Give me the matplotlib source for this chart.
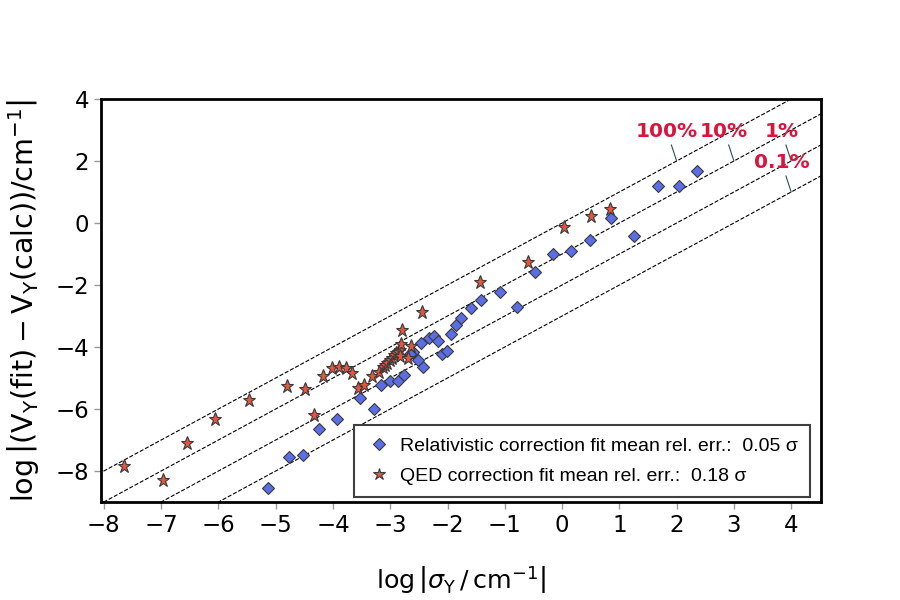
import numpy as np
import matplotlib
matplotlib.use('Agg')
import matplotlib.pyplot as plt

# log|sigma| vs log|fit - calc| for the two correction fits
RelX = [-5.14, -4.76, -4.53, -4.25, -3.93, -3.29, -3.52, -3.16, -3.01, -2.87,
        -2.76, -2.43, -2.52, -2.60, -2.65, -2.46, -2.33, -2.23, -2.16, -2.10,
        -2.01, -1.94, -1.85, -1.77, -1.59, -1.42, -1.09, -0.78, -0.47, -0.16,
        0.16, 0.48, 0.85, 1.26, 1.67, 2.04, 2.36]
RelY = [-8.54, -7.56, -7.49, -6.64, -6.31, -5.99, -5.65, -5.22, -5.10, -5.09,
        -4.89, -4.64, -4.42, -4.15, -4.23, -3.88, -3.70, -3.65, -3.80, -4.21,
        -4.13, -3.57, -3.30, -3.06, -2.74, -2.49, -2.22, -2.70, -1.58, -1.00,
        -0.91, -0.55, 0.17, -0.41, 1.20, 1.20, 1.69]

QedX = [-7.64, -6.97, -6.55, -6.06, -5.46, -4.80, -4.49, -4.33, -4.17, -4.02,
        -3.89, -3.77, -3.67, -3.57, -3.45, -3.32, -3.19, -3.13, -3.09, -3.05,
        -3.01, -2.97, -2.94, -2.90, -2.87, -2.83, -2.81, -2.80, -2.83, -2.69,
        -2.63, -2.45, -1.44, -0.60, 0.04, 0.51, 0.84]
QedY = [-7.84, -8.29, -7.11, -6.33, -5.71, -5.26, -5.34, -6.20, -4.95, -4.69,
        -4.63, -4.69, -4.84, -5.33, -5.22, -4.94, -4.79, -4.66, -4.59, -4.50,
        -4.42, -4.34, -4.27, -4.20, -4.15, -4.09, -3.91, -3.44, -4.29, -4.35,
        -3.97, -2.87, -1.89, -1.26, -0.12, 0.24, 0.46]

# relative error guide lines: log|dV| = log|sigma| + log(err)
ErrLabels = ['100%', '10%', '1%', '0.1%']
ErrLogs = [0, -1, -2, -3]
LabelPoints = [(2, 2), (3, 2), (4, 2), (4, 1)]

fig = plt.figure(figsize=(9, 6), dpi=100)
ax = fig.add_subplot(111)
fig.subplots_adjust(left=0.1122, right=0.9122, top=0.835, bottom=0.1633)

xs = np.array([-9.0, 5.0])
for lg in ErrLogs:
    ax.plot(xs, xs + lg, 'k--', lw=0.8, zorder=1)

ax.plot(RelX, RelY, ls='', marker='D', ms=6.0, mfc='#5b6ee6', mec='#3a3a3a', mew=0.8,
        label=u'Relativistic correction fit mean rel. err.:  0.05 \u03c3', zorder=3)
ax.plot(QedX, QedY, ls='', marker='*', ms=9.8, mfc='#e2553f', mec='#3a3a3a', mew=0.8,
        label=u'QED correction fit mean rel. err.:  0.18 \u03c3', zorder=3)

for lab, pt in zip(ErrLabels, LabelPoints):
    ax.annotate(lab, xy=pt, xytext=(pt[0] - 0.17, pt[1] + 0.96), ha='center', va='center',
                fontsize=14.5, fontweight='bold', color='#dc143c',
                arrowprops=dict(arrowstyle='-', color='#2f4f4f', lw=0.8, shrinkA=1, shrinkB=0))

ax.set_xlim(-8.05, 4.52)
ax.set_ylim(-9, 4)
ax.set_xticks(np.arange(-8, 5, 1))
ax.set_yticks(np.arange(-8, 5, 2))
ax.tick_params(axis='both', labelsize=16.5, color='#999999', length=5, width=1,
               top=False, right=False)
for sp in ax.spines.values():
    sp.set_linewidth(2)
    sp.set_color('black')

ax.set_xlabel(r'$\log\left|\sigma_\mathrm{Y}\,/\,\mathrm{cm}^{-1}\right|$', fontsize=18.3, labelpad=20)
ax.set_ylabel(r'$\log\left|(\mathrm{V_Y(fit)} - \mathrm{V_Y(calc)})/\mathrm{cm}^{-1}\right|$',
              fontsize=20.5, labelpad=10)

leg = ax.legend(loc='lower right', bbox_to_anchor=(0.985, 0.012), borderaxespad=0,
                fancybox=False, framealpha=1, edgecolor='#404040', markerscale=0.95,
                prop={'family': ['Liberation Sans', 'DejaVu Sans'], 'size': 14},
                handlelength=1.3, handletextpad=0.4, borderpad=0.65, labelspacing=0.6)
leg.get_frame().set_linewidth(1.5)

plt.savefig('out.png', dpi=100)
